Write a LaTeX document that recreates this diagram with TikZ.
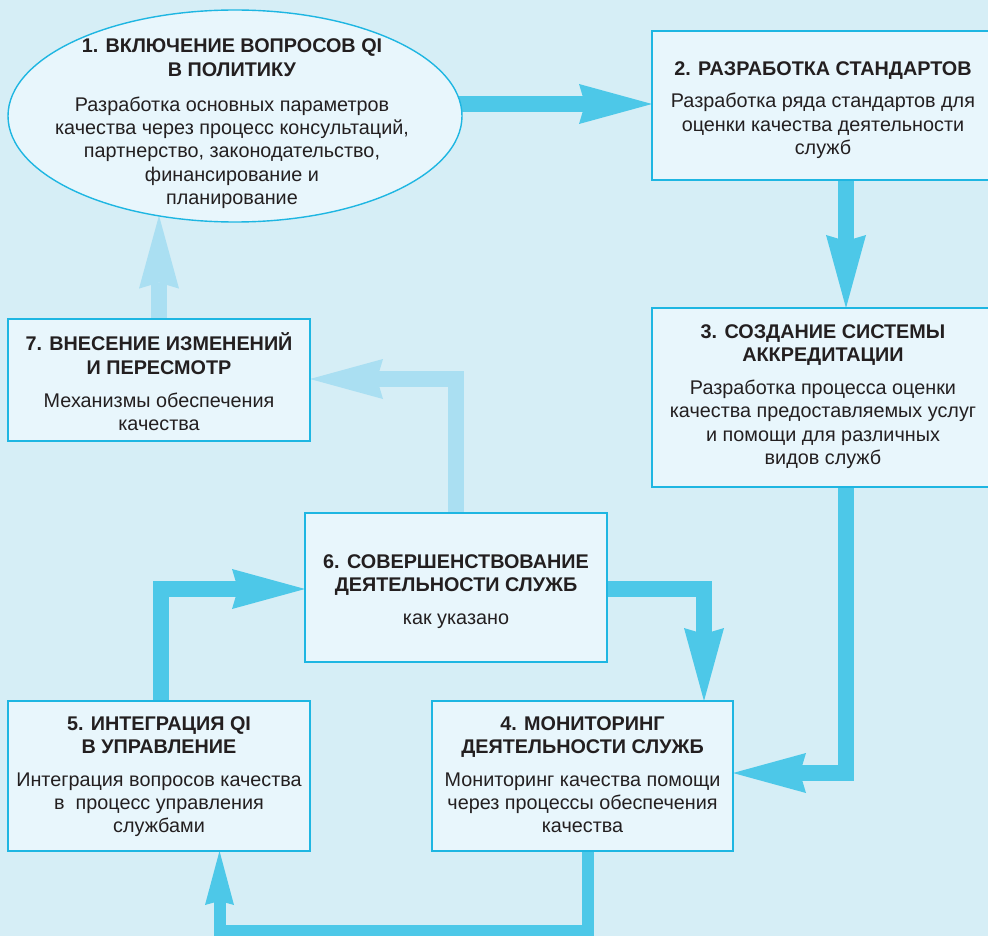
\documentclass[tikz,border=0pt]{standalone}
\usepackage{fontspec}
\setmainfont{Liberation Sans}
\usetikzlibrary{arrows.meta,shapes.geometric}
\definecolor{bgc}{HTML}{D6EEF6}
\definecolor{boxfill}{HTML}{E8F6FC}
\definecolor{boxline}{HTML}{1EB6E2}
\definecolor{arrc}{HTML}{4DC8E8}
\definecolor{arrl}{HTML}{AADFF2}
\definecolor{txt}{HTML}{231F20}
\pgfdeclarelayer{bglayer}
\pgfdeclarelayer{arrlayer}
\pgfsetlayers{bglayer,arrlayer,main}
\newcommand\bxtext[5]{\parbox[c][#2][t]{#1}{\centering\vspace*{#3}\strut\textbf{#4}\par\vspace{9.5pt}\strut#5\par}}
\tikzset{
  boxst/.style={draw=boxline, fill=boxfill, line width=1.4pt, inner sep=0pt, outer sep=0pt, text=txt,
    font=\fontsize{19.8pt}{23.3pt}\selectfont},
  ellst/.style={ellipse, draw=boxline, fill=boxfill, line width=1.4pt, inner sep=0pt, outer sep=0pt, text=txt,
    minimum width=454pt, minimum height=212pt, font=\fontsize{19.8pt}{23.3pt}\selectfont},
  arrD/.style={draw=arrc, line width=16pt, -{Stealth[length=73pt,width=40pt,inset=6pt,line width=0pt]}},
  arrL/.style={draw=arrl, line width=16pt, -{Stealth[length=73pt,width=40pt,inset=6pt,line width=0pt]}},
  arrS/.style={draw=arrc, line width=12pt, -{Stealth[length=54pt,width=29pt,inset=4pt,line width=0pt]}}
}
\begin{document}
\begin{tikzpicture}[x=1pt,y=-1pt]
\useasboundingbox (0,0) rectangle (988,936);
\begin{pgfonlayer}{bglayer}
\fill[bgc] (0,0) rectangle (988,936);
\end{pgfonlayer}
% nodes
\node[ellst] (b1) at (235,116) {\makebox[0pt]{\kern-6pt\raisebox{63pt}[0pt][0pt]{\parbox[t]{390pt}{\centering
  \strut\textbf{1. ВКЛЮЧЕНИЕ ВОПРОСОВ QI\\В ПОЛИТИКУ}\par\vspace{11.7pt}
  \strut Разработка основных параметров\\качества через процесс консультаций,\\партнерство, законодательство,\\финансирование и\\планирование\par}}}};
\node[boxst, anchor=north west] (b2) at (652,31) {\bxtext{342pt}{149pt}{27.7pt}{2. РАЗРАБОТКА СТАНДАРТОВ}{Разработка ряда стандартов для\\оценки качества деятельности\\служб}};
\node[boxst, anchor=north west] (b3) at (652,308) {\bxtext{342pt}{179pt}{14pt}{3. СОЗДАНИЕ СИСТЕМЫ\\АККРЕДИТАЦИИ}{Разработка процесса оценки\\качества предоставляемых услуг\\и помощи для различных\\видов служб}};
\node[boxst, anchor=north west] (b7) at (8,319) {\bxtext{302pt}{122pt}{14pt}{7. ВНЕСЕНИЕ ИЗМЕНЕНИЙ\\И ПЕРЕСМОТР}{Механизмы обеспечения\\качества}};
\node[boxst, anchor=north west] (b6) at (305,513) {\bxtext{302pt}{149pt}{38.7pt}{6. СОВЕРШЕНСТВОВАНИЕ\\ДЕЯТЕЛЬНОСТИ СЛУЖБ}{как указано}};
\node[boxst, anchor=north west] (b5) at (8,701) {\bxtext{302pt}{150pt}{12.7pt}{5. ИНТЕГРАЦИЯ QI\\В УПРАВЛЕНИЕ}{Интеграция вопросов качества\\в\ \ процесс управления\\службами}};
\node[boxst, anchor=north west] (b4) at (432,701) {\bxtext{301pt}{150pt}{12.7pt}{4. МОНИТОРИНГ\\ДЕЯТЕЛЬНОСТИ СЛУЖБ}{Мониторинг качества помощи\\через процессы обеспечения\\качества}};
% connector corners
\coordinate (k23) at (846,0);
\coordinate (k34) at (846,773);
\coordinate (k64) at (704,589);
\coordinate (k45a) at (588,930.5);
\coordinate (k45b) at (219.5,930.5);
\coordinate (k56) at (161,589);
\coordinate (k67) at (456,379);
\coordinate (k71) at (159,216);
\begin{pgfonlayer}{arrlayer}
\draw[arrD] ([shift={(-10pt,12pt)}]b1.east) -- ([yshift=12pt]b1.east -| b2.west);
\draw[arrD] (b2.south -| k23) -- (b3.north -| k23);
\draw[arrD] (b3.south -| k34) -- (k34) -- (k34 -| b4.east);
\draw[arrD] (b6.east |- k64) -- (k64) -- (k64 |- b4.north);
\draw[arrS] (b4.south -| k45a) -- (k45a) -- (k45b) -- (k45b |- b5.south);
\draw[arrD] (b5.north -| k56) -- (k56) -- (k56 -| b6.west);
\draw[arrL] (b6.north -| k67) -- (k67) -- (k67 -| b7.east);
\draw[arrL] (b7.north -| k71) -- (k71 |- b1.232.77);
\end{pgfonlayer}
\end{tikzpicture}
\end{document}
